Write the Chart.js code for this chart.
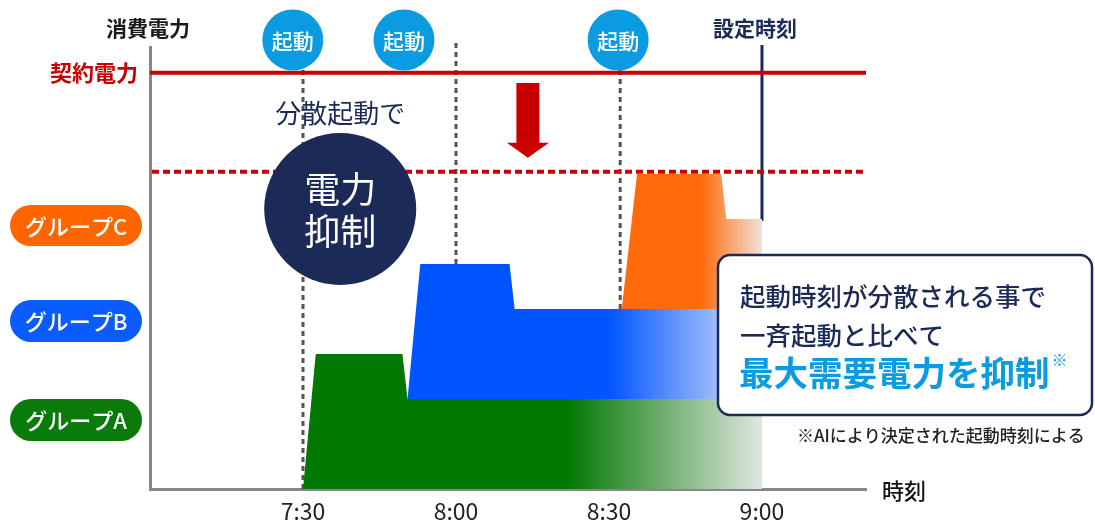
<!DOCTYPE html>
<html lang="ja">
<head>
<meta charset="utf-8">
<script src="https://cdn.jsdelivr.net/npm/chart.js@4.4.1/dist/chart.umd.min.js"></script>
<style>
  html, body { margin: 0; padding: 0; background: #fff; }
  #wrap { width: 1095px; height: 524px; }
</style>
</head>
<body>
<div id="wrap"><canvas id="powerChart" width="1095" height="524"></canvas></div>
<script>
// 時刻は 7:00 からの経過分
const times  = [30, 32.5, 49.5, 50.5, 53, 70.5, 71.5, 92.5, 95.5, 112, 113, 120];
const groupA = [0, 30, 30, 20, 20, 20, 20, 20, 20, 20, 20, 20];
const groupB = [0, 0, 0, 0, 30, 30, 20, 20, 20, 20, 20, 20];
const groupC = [0, 0, 0, 0, 0, 0, 0, 0, 30, 30, 20, 20];

const tickTimes  = [30, 60, 90, 120];
const tickLabels = ['7:30', '8:00', '8:30', '9:00'];

const startTimes = [28, 49.8, 91.8];   // 起動マーク
const dashTimes  = [30, 60, 92.2];     // 起動の破線
const setTime = 120;                   // 設定時刻
const contractPower = 92.5;
const peakLimit = 70.5;

const FONT = '"Noto Sans CJK JP", "Noto Sans", sans-serif';
const NAVY = '#1b2a56';
const SKY  = '#0a9be0';
const RED  = '#c80000';

function fadeFill(solid, pale, fromT) {
    return function (context) {
        const chart = context.chart;
        if (!chart.chartArea) return solid;
        const x = chart.scales.x;
        const g = chart.ctx.createLinearGradient(x.getPixelForValue(fromT), 0, x.getPixelForValue(setTime), 0);
        g.addColorStop(0, solid);
        g.addColorStop(1, pale);
        return g;
    };
}

function toPoints(values) {
    return times.map((t, i) => ({ x: t, y: values[i] }));
}

function pill(ctx, x, y, w, h, color, text) {
    ctx.fillStyle = color;
    ctx.beginPath();
    ctx.roundRect(x, y, w, h, h / 2);
    ctx.fill();
    ctx.fillStyle = '#fff';
    ctx.font = '500 22px ' + FONT;
    ctx.textAlign = 'center';
    ctx.textBaseline = 'middle';
    ctx.fillText(text, x + w / 2, y + h / 2 + 1);
}

const overlay = {
    id: 'overlay',
    beforeDatasetsDraw(chart) {
        const { ctx, chartArea: a, scales: { x, y } } = chart;
        ctx.save();
        ctx.strokeStyle = '#555';
        ctx.lineWidth = 3;
        ctx.setLineDash([5, 4]);
        dashTimes.forEach(t => {
            const px = x.getPixelForValue(t);
            ctx.beginPath();
            ctx.moveTo(px, a.top - 4);
            ctx.lineTo(px, a.bottom);
            ctx.stroke();
        });
        ctx.setLineDash([]);

        const sx = x.getPixelForValue(setTime);
        const endTop = y.getPixelForValue(groupA.at(-1) + groupB.at(-1) + groupC.at(-1));
        ctx.strokeStyle = NAVY;
        ctx.lineWidth = 3;
        ctx.beginPath();
        ctx.moveTo(sx, a.top - 2);
        ctx.lineTo(sx, endTop + 2);
        ctx.stroke();
        ctx.restore();
    },
    afterDatasetsDraw(chart) {
        const { ctx, chartArea: a, scales: { x, y } } = chart;
        ctx.save();

        // 契約電力
        const cy = y.getPixelForValue(contractPower);
        ctx.strokeStyle = RED;
        ctx.lineWidth = 4;
        ctx.beginPath();
        ctx.moveTo(a.left, cy);
        ctx.lineTo(a.right, cy);
        ctx.stroke();

        // 最大需要電力 (点線)
        const py = y.getPixelForValue(peakLimit);
        ctx.setLineDash([7, 4]);
        ctx.beginPath();
        ctx.moveTo(a.left + 2, py);
        ctx.lineTo(a.right, py);
        ctx.stroke();
        ctx.setLineDash([]);

        // 下向き矢印
        const ax = x.getPixelForValue(74.1);
        const aTop = y.getPixelForValue(90.2);
        const aTip = y.getPixelForValue(73.6);
        ctx.fillStyle = RED;
        ctx.beginPath();
        ctx.moveTo(ax - 11.5, aTop);
        ctx.lineTo(ax + 11.5, aTop);
        ctx.lineTo(ax + 11.5, aTip - 15);
        ctx.lineTo(ax + 21, aTip - 15);
        ctx.lineTo(ax, aTip);
        ctx.lineTo(ax - 21, aTip - 15);
        ctx.lineTo(ax - 11.5, aTip - 15);
        ctx.closePath();
        ctx.fill();

        // 起動マーク
        startTimes.forEach(t => {
            const px = x.getPixelForValue(t);
            ctx.fillStyle = SKY;
            ctx.beginPath();
            ctx.arc(px, a.top - 7, 30.5, 0, Math.PI * 2);
            ctx.fill();
            ctx.fillStyle = '#fff';
            ctx.font = '500 21px ' + FONT;
            ctx.textAlign = 'center';
            ctx.textBaseline = 'middle';
            ctx.fillText('起動', px, a.top - 6);
        });

        // 分散起動で / 電力抑制
        const mx = x.getPixelForValue(37.3);
        ctx.fillStyle = NAVY;
        ctx.font = '400 26px ' + FONT;
        ctx.textAlign = 'center';
        ctx.textBaseline = 'middle';
        ctx.fillText('分散起動で', mx, y.getPixelForValue(83.6));

        const my = y.getPixelForValue(62.2);
        ctx.beginPath();
        ctx.arc(mx, my, 76, 0, Math.PI * 2);
        ctx.fill();
        ctx.fillStyle = '#fff';
        ctx.font = '400 36px ' + FONT;
        ctx.fillText('電力', mx, my - 20);
        ctx.fillText('抑制', mx, my + 22);

        // 軸の見出し
        ctx.fillStyle = '#1a1a1a';
        ctx.font = '700 21px ' + FONT;
        ctx.fillText('消費電力', a.left - 2, 28);
        ctx.fillStyle = NAVY;
        ctx.fillText('設定時刻', x.getPixelForValue(setTime) - 7, 28);
        ctx.fillStyle = RED;
        ctx.font = '700 22px ' + FONT;
        ctx.textAlign = 'right';
        ctx.fillText('契約電力', a.left - 12, cy);
        ctx.fillStyle = '#111';
        ctx.font = '500 22px ' + FONT;
        ctx.textAlign = 'left';
        ctx.fillText('時刻', a.right + 16, a.bottom + 2);

        // グループラベル
        pill(ctx, 10, 205, 132, 41, '#ff6600', 'グループC');
        pill(ctx, 10, 300, 132, 42, '#0a5cff', 'グループB');
        pill(ctx, 10, 399, 132, 42, '#0a7a0a', 'グループA');

        // 吹き出し
        ctx.fillStyle = '#fff';
        ctx.strokeStyle = NAVY;
        ctx.lineWidth = 2.5;
        ctx.beginPath();
        ctx.roundRect(718, 255, 374, 160, 12);
        ctx.fill();
        ctx.stroke();

        ctx.textAlign = 'left';
        ctx.textBaseline = 'middle';
        ctx.fillStyle = NAVY;
        ctx.font = '500 25.5px ' + FONT;
        ctx.fillText('起動時刻が分散される事で', 740, 296);
        ctx.fillText('一斉起動と比べて', 740, 335);
        ctx.fillStyle = SKY;
        ctx.font = '700 34.5px ' + FONT;
        const big = '最大需要電力を抑制';
        ctx.fillText(big, 739, 373);
        const bw = ctx.measureText(big).width;
        ctx.font = '400 16px ' + FONT;
        ctx.fillText('※', 739 + bw + 2, 360);

        ctx.fillStyle = '#222';
        ctx.font = '500 17px ' + FONT;
        ctx.fillText('※AIにより決定された起動時刻による', 797, 436);

        ctx.restore();
    }
};

new Chart(document.getElementById('powerChart').getContext('2d'), {
    type: 'line',
    data: {
        datasets: [
            {
                label: 'グループA',
                data: toPoints(groupA),
                backgroundColor: fadeFill('#037803', '#dfe6df', 82),
                fill: 'origin'
            },
            {
                label: 'グループB',
                data: toPoints(groupB),
                backgroundColor: fadeFill('#0055ff', '#dde6f6', 90),
                fill: '-1'
            },
            {
                label: 'グループC',
                data: toPoints(groupC),
                backgroundColor: fadeFill('#ff6a0a', '#f2e2d8', 108),
                fill: '-1'
            }
        ]
    },
    options: {
        responsive: false,
        animation: false,
        layout: { padding: { left: 150, right: 229, top: 47, bottom: 0 } },
        elements: {
            line: { tension: 0, borderWidth: 0 },
            point: { radius: 0, hoverRadius: 0 }
        },
        plugins: {
            legend: { display: false },
            tooltip: { enabled: false }
        },
        scales: {
            x: {
                type: 'linear',
                min: 0,
                max: 140.4,
                afterBuildTicks: s => { s.ticks = tickTimes.map(v => ({ value: v })); },
                afterFit: s => { s.height = 35; },
                grid: { display: false, drawTicks: false },
                border: { color: '#888', width: 3 },
                ticks: {
                    padding: 8,
                    color: '#222',
                    font: { family: FONT, size: 23 },
                    callback: (v, i) => tickLabels[i]
                }
            },
            y: {
                stacked: true,
                min: 0,
                max: 98.2,
                afterFit: s => { s.width = 0; },
                grid: { display: false, drawTicks: false },
                border: { color: '#888', width: 3 },
                ticks: { display: false }
            }
        }
    },
    plugins: [overlay]
});
</script>
</body>
</html>
